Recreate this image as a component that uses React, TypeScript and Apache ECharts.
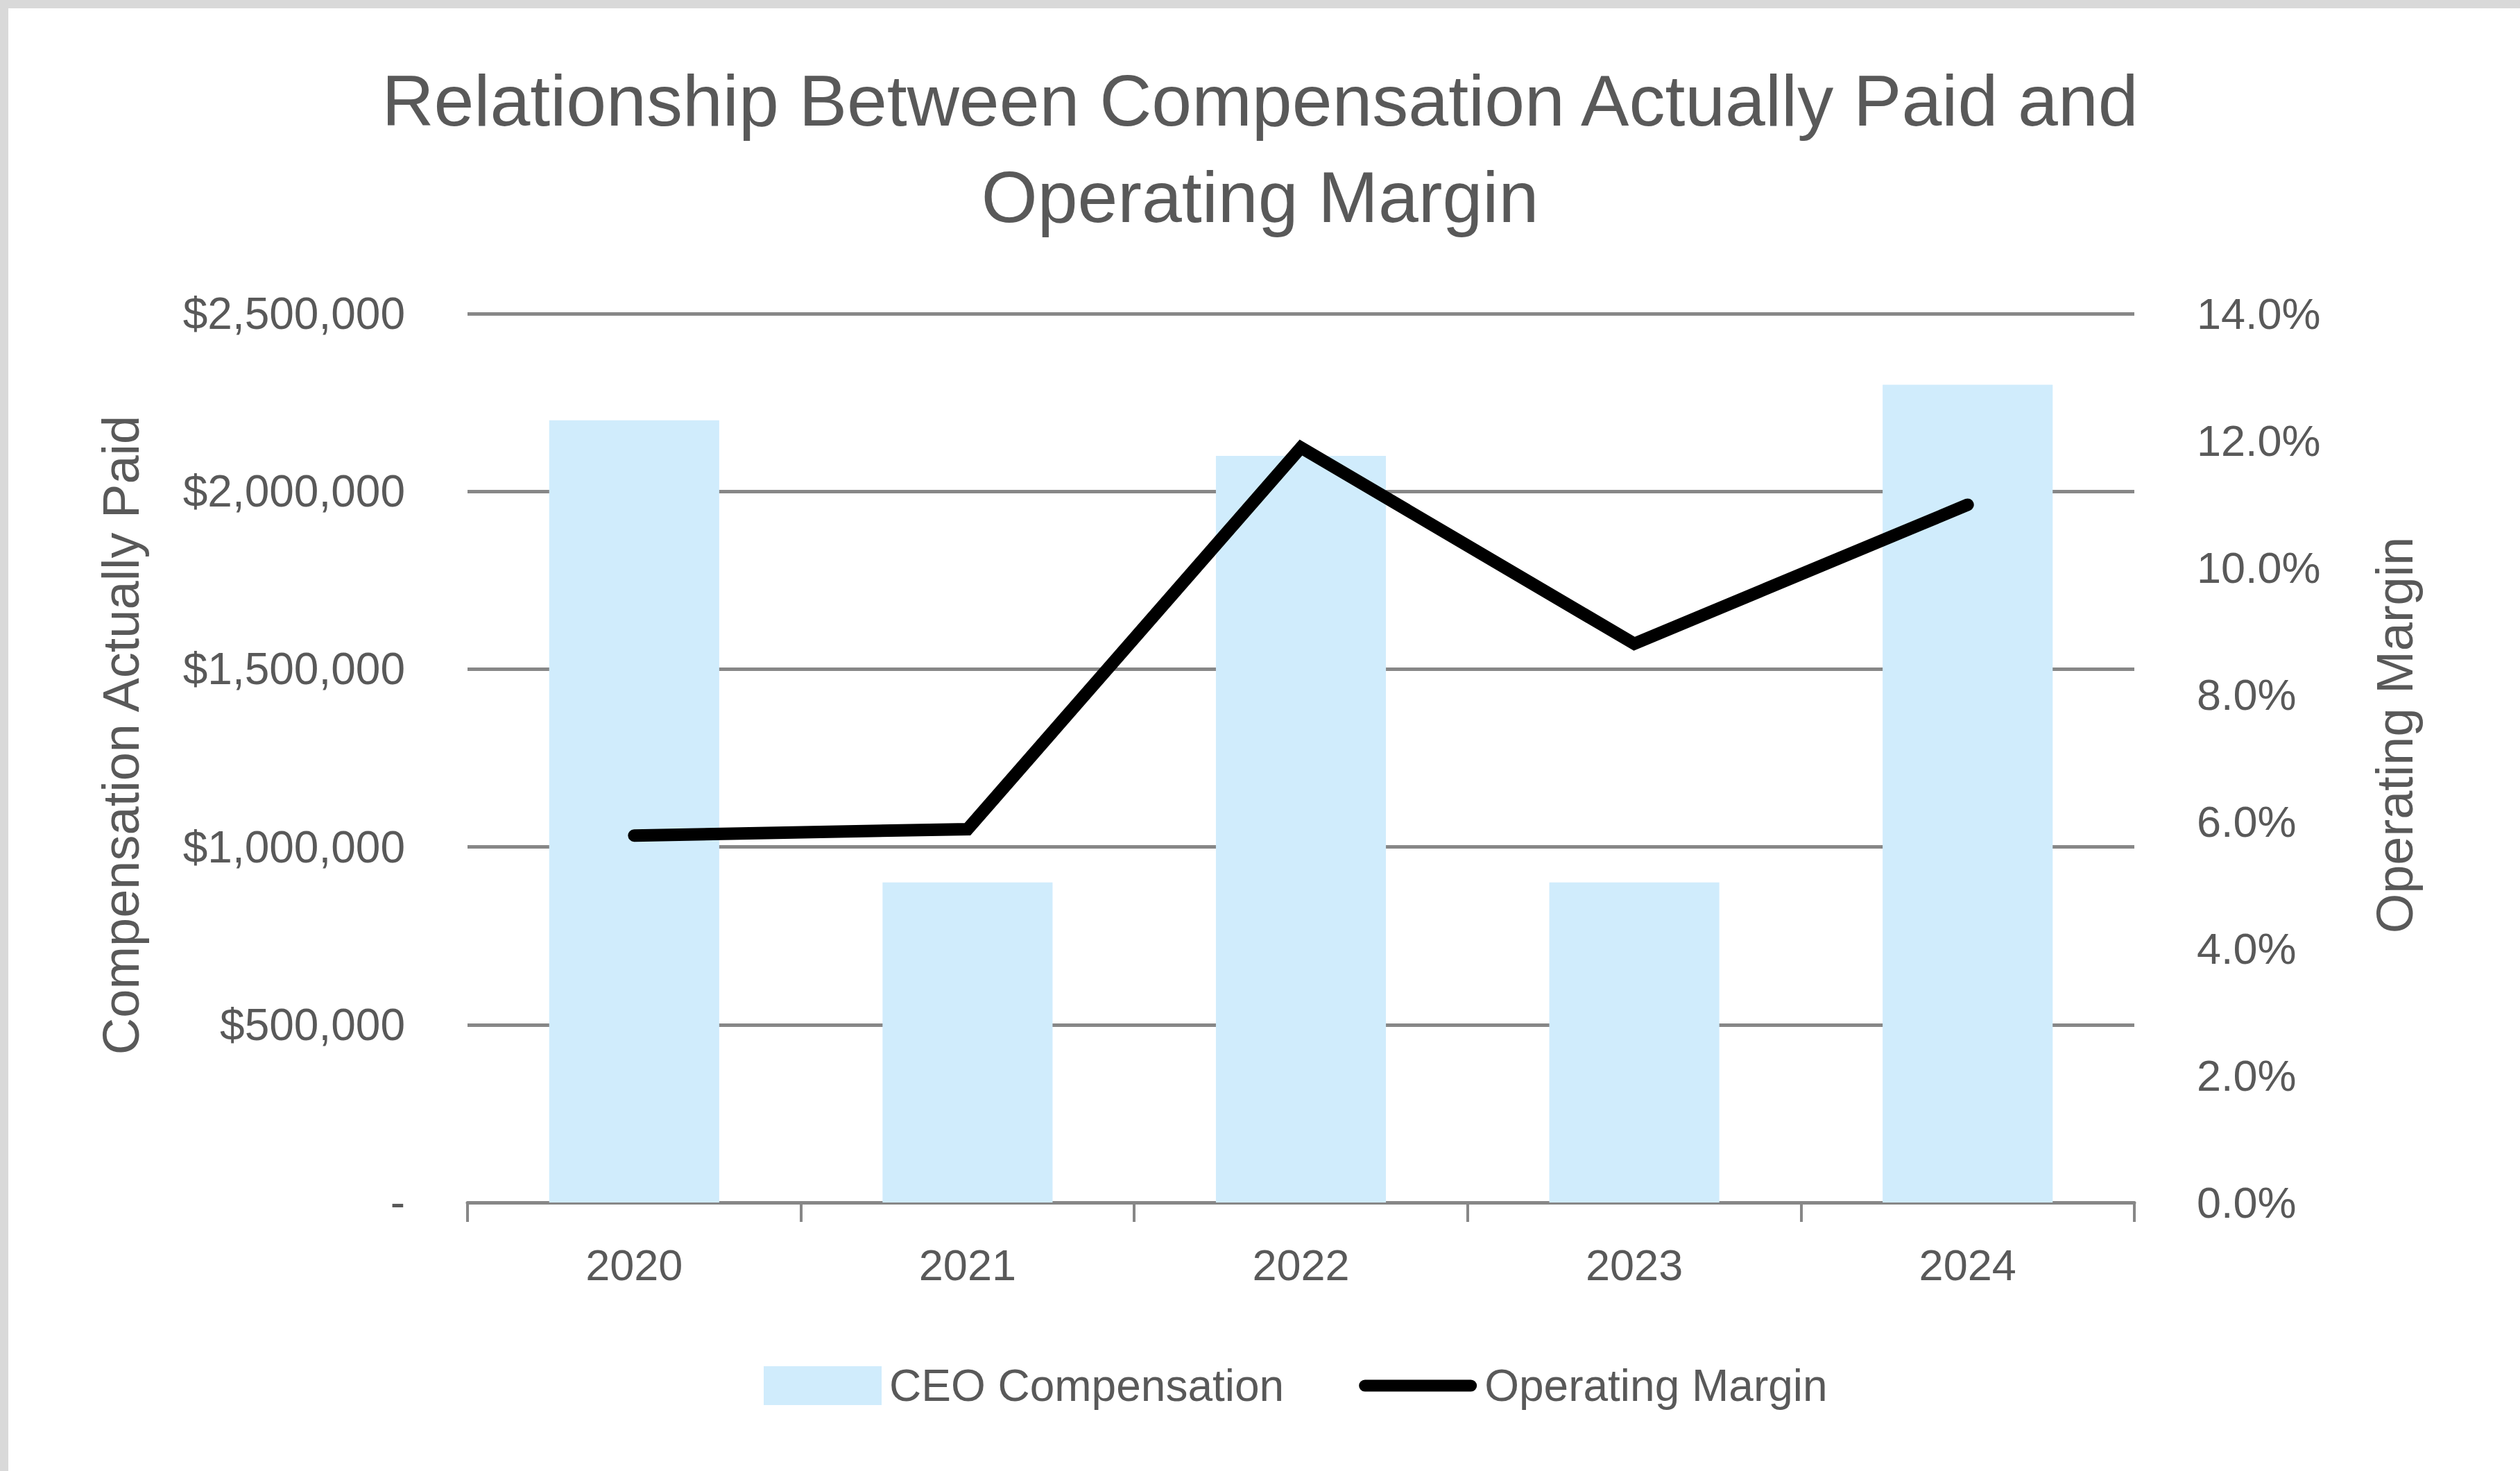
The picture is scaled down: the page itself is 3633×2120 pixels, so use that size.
import React, { useEffect, useRef } from "react";
import * as echarts from "echarts";

// Fiscal years on the category axis
const years = ["2020", "2021", "2022", "2023", "2024"];
// CEO compensation actually paid, in dollars
const ceoCompensation = [2200000, 900000, 2100000, 900000, 2300000];
// Operating margin, in percent
const operatingMargin = [5.78, 5.88, 11.89, 8.8, 10.99];

const FONT = "'Liberation Sans', Arial, Helvetica, sans-serif";
const TEXT = "#595959";
const RULE = "#878787";

// Thick rounded bar used as the legend marker of the margin line
const LINE_ICON =
  "path://M9,0 L169,0 A9,9 0 0 1 169,18 L9,18 A9,9 0 0 1 9,0 Z";

export default function App() {
  const ref = useRef<HTMLDivElement>(null);

  useEffect(() => {
    if (!ref.current) return;
    const chart = echarts.init(ref.current, undefined, { renderer: "svg" });
    chart.setOption({
      animation: false,
      backgroundColor: "#ffffff",
      textStyle: { fontFamily: FONT },
      title: {
        text: "Relationship Between Compensation Actually Paid and\nOperating Margin",
        left: "center",
        top: 70,
        textStyle: {
          fontFamily: FONT,
          fontSize: 104,
          fontWeight: "normal",
          color: TEXT,
          lineHeight: 139,
        },
      },
      graphic: [
        {
          type: "rect",
          left: 0,
          top: 0,
          shape: { x: 0, y: 0, width: 3633, height: 2120 },
          style: { fill: "none", stroke: "#D9D9D9", lineWidth: 12 },
          silent: true,
          z: 100,
        },
      ],
      legend: {
        left: 1096,
        top: 1960,
        itemWidth: 170,
        itemHeight: 56,
        itemGap: 108,
        symbolKeepAspect: true,
        textStyle: {
          fontFamily: FONT,
          fontSize: 64,
          color: TEXT,
          padding: [0, 0, 0, 6],
        },
        data: [
          { name: "CEO Compensation", icon: "rect" },
          {
            name: "Operating Margin",
            icon: LINE_ICON,
            itemStyle: { color: "#000000" },
          },
        ],
      },
      grid: { left: 674, right: 556, top: 452, bottom: 387 },
      xAxis: {
        type: "category",
        data: years,
        axisLine: { lineStyle: { color: RULE, width: 5 } },
        axisTick: { show: true, length: 28, lineStyle: { color: RULE, width: 4 } },
        axisLabel: { fontFamily: FONT, fontSize: 63, color: TEXT, margin: 58 },
      },
      yAxis: [
        {
          type: "value",
          min: 0,
          max: 2500000,
          interval: 500000,
          name: "Compensation Actually Paid",
          nameLocation: "middle",
          nameGap: 463,
          nameTextStyle: {
            fontFamily: FONT,
            fontSize: 74,
            color: TEXT,
            padding: [0, 0, 0, 66],
          },
          axisLine: { show: false },
          axisTick: { show: false },
          splitLine: { lineStyle: { color: RULE, width: 5 } },
          axisLabel: {
            fontFamily: FONT,
            fontSize: 64,
            color: TEXT,
            margin: 90,
            formatter: (v: number) =>
              v === 0 ? "-" : "$" + v.toLocaleString("en-US"),
          },
        },
        {
          type: "value",
          min: 0,
          max: 14,
          interval: 2,
          name: "Operating Margin",
          nameLocation: "middle",
          nameGap: 338,
          nameTextStyle: {
            fontFamily: FONT,
            fontSize: 74,
            color: TEXT,
            padding: [0, 0, 0, 66],
          },
          axisLine: { show: false },
          axisTick: { show: false },
          splitLine: { show: false },
          axisLabel: {
            fontFamily: FONT,
            fontSize: 63,
            color: TEXT,
            margin: 90,
            formatter: (v: number) => v.toFixed(1) + "%",
          },
        },
      ],
      series: [
        {
          name: "CEO Compensation",
          type: "bar",
          data: ceoCompensation,
          yAxisIndex: 0,
          barCategoryGap: "49%",
          itemStyle: { color: "#D0ECFC" },
        },
        {
          name: "Operating Margin",
          type: "line",
          data: operatingMargin,
          yAxisIndex: 1,
          symbol: "none",
          lineStyle: { color: "#000000", width: 18, cap: "round", join: "miter" },
          itemStyle: { color: "#000000" },
          z: 5,
        },
      ],
    });
    return () => chart.dispose();
  }, []);

  return (
    <div
      ref={ref}
      style={{ position: "fixed", left: 0, top: 0, width: 3633, height: 2120 }}
    />
  );
}
